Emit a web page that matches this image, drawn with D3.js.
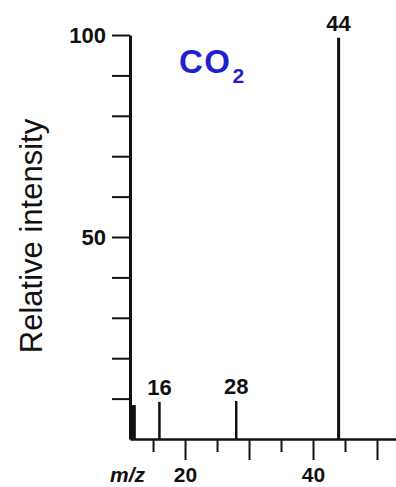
<!DOCTYPE html>
<html>
<head>
<meta charset="utf-8">
<script src="https://cdn.jsdelivr.net/npm/d3@7"></script>
<style>
  html, body { margin: 0; padding: 0; background: #fff; }
  svg { display: block; }
  text { font-family: "Liberation Sans", Arial, Helvetica, sans-serif; fill: #111; }
</style>
</head>
<body>
<svg id="chart" width="396" height="487"></svg>
<script>
// ---- data ----
const mz = [12, 16, 28, 44];
const intensity = [8.4, 9.2, 9.4, 99.3];
const peakLabels = ["", "16", "28", "44"];
const xTicks = [15, 20, 25, 30, 35, 40, 45, 50];
const xTickLabels = ["", "20", "", "", "", "40", "", ""];
const yTicks = [10, 20, 30, 40, 50, 60, 70, 80, 90, 100];
const yTickLabels = ["", "", "", "", "50", "", "", "", "", "100"];
const xTitle = "m/z";
const yTitle = "Relative intensity";
const compound = "CO";
const compoundSub = "2";

// ---- chart ----
const svg = d3.select("#chart");
const x = d3.scaleLinear().domain([11.4, 53]).range([130, 396.2]);
const y = d3.scaleLinear().domain([0, 100]).range([439, 35]);
const numFont = "22px";

// x axis
const xAxis = d3.axisBottom(x)
  .tickValues(xTicks)
  .tickSize(21)
  .tickSizeOuter(0)
  .tickFormat((d, i) => xTickLabels[i]);
const gx = svg.append("g").attr("transform", `translate(0,${y(0)})`).call(xAxis);
gx.select(".domain").attr("stroke", "#111").attr("stroke-width", 2.5);
gx.selectAll(".tick line")
  .attr("stroke", "#111").attr("stroke-width", 2)
  .attr("y2", d => (d % 10 === 0 ? 21 : 13));
gx.selectAll(".tick text")
  .attr("y", 43).attr("dy", 0)
  .style("font-size", "21px").style("font-weight", "bold")
  .style("font-family", "'Liberation Sans', Arial, sans-serif")
  .attr("fill", "#111");

// y axis
const yAxis = d3.axisLeft(y)
  .tickValues(yTicks)
  .tickSize(18)
  .tickSizeOuter(0)
  .tickPadding(6)
  .tickFormat((d, i) => yTickLabels[i]);
const gy = svg.append("g").attr("transform", `translate(${x.range()[0]},0)`).call(yAxis);
gy.select(".domain").attr("stroke", "#111").attr("stroke-width", 3);
gy.selectAll(".tick line").attr("stroke", "#111").attr("stroke-width", 2);
gy.selectAll(".tick text")
  .attr("dy", "0.36em")
  .style("font-size", numFont).style("font-weight", "bold")
  .style("font-family", "'Liberation Sans', Arial, sans-serif")
  .attr("fill", "#111");

// peaks
const peaks = mz.map((m, i) => ({ m, v: intensity[i], label: peakLabels[i] }));
svg.append("g").selectAll("line").data(peaks).join("line")
  .attr("x1", d => x(d.m)).attr("x2", d => x(d.m))
  .attr("y1", y(0)).attr("y2", d => y(d.v))
  .attr("stroke", "#111")
  .attr("stroke-width", d => (d.m === 12 ? 4 : (d.m === 44 ? 3 : 2.5)));

svg.append("g").selectAll("text").data(peaks.filter(d => d.label)).join("text")
  .attr("x", d => x(d.m)).attr("y", d => y(d.v) - 7)
  .attr("text-anchor", "middle")
  .style("font-size", numFont).style("font-weight", "bold")
  .text(d => d.label);

// axis titles
svg.append("text")
  .attr("x", 110).attr("y", 482)
  .style("font-size", "21px").style("font-style", "italic").style("font-weight", "bold")
  .text(xTitle);

svg.append("text")
  .attr("transform", "translate(42,236) rotate(-90)")
  .attr("text-anchor", "middle")
  .style("font-size", "31px")
  .text(yTitle);

// compound label
const ct = svg.append("text")
  .attr("x", 179).attr("y", 73)
  .style("font-size", "33px").style("font-weight", "bold")
  .style("letter-spacing", "1.5px")
  .style("fill", "#1f1fd2");
ct.append("tspan").text(compound);
ct.append("tspan").attr("dy", 10).attr("dx", 1).style("font-size", "21px").style("letter-spacing", "0px").text(compoundSub);
</script>
</body>
</html>
